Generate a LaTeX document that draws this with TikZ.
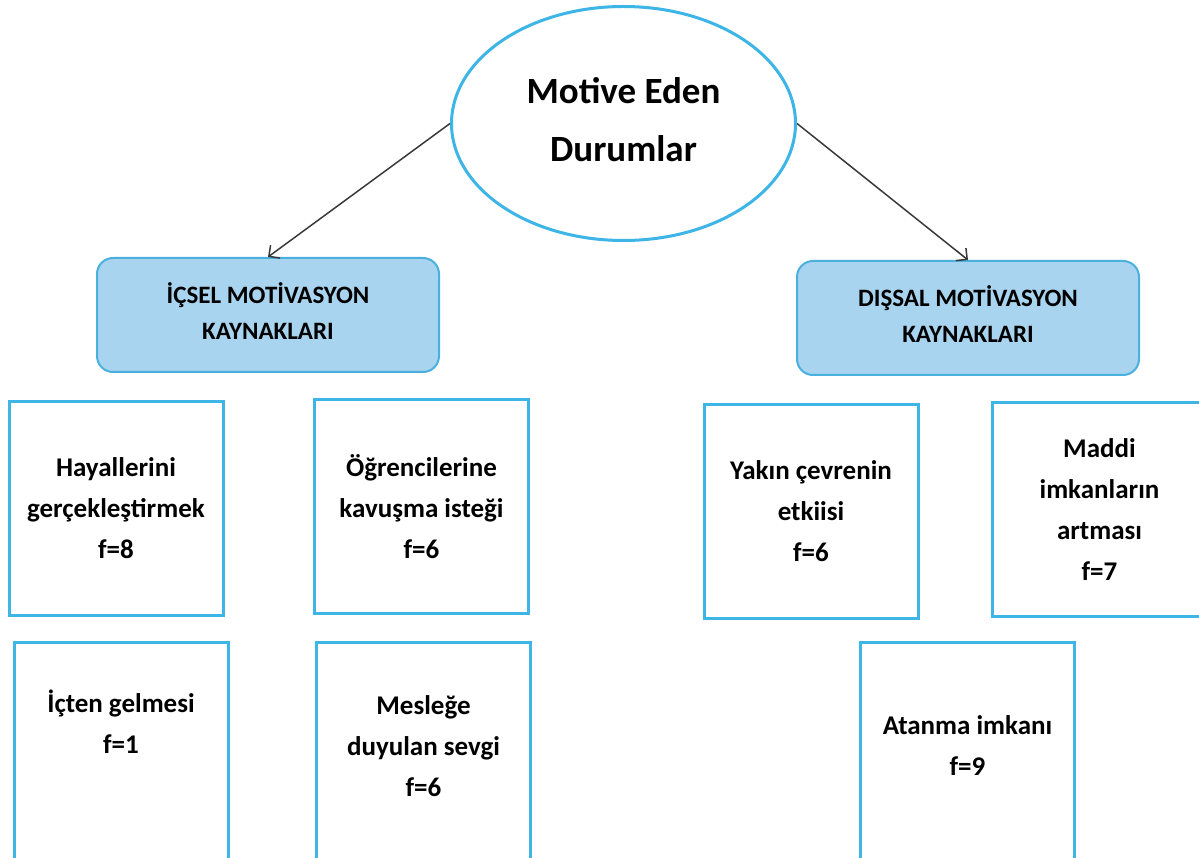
\documentclass[tikz,border=0pt]{standalone}
\usepackage{fontspec}
\setmainfont{Carlito}
\usetikzlibrary{arrows.meta,shapes.geometric}
\definecolor{skyline}{HTML}{3DB5E7}
\definecolor{skyfill}{HTML}{A8D4EF}
\definecolor{boxline}{HTML}{4AB0DE}
\definecolor{arrowgray}{HTML}{3A3A3A}
\tikzset{
  ovalbox/.style={ellipse, draw=skyline, line width=3pt, minimum width=344pt, minimum height=234pt, inner sep=0pt,
    align=center, font=\fontsize{37}{58}\selectfont\bfseries},
  catbox/.style={draw=boxline, fill=skyfill, line width=2pt, rounded corners=16pt, minimum width=342pt, minimum height=114pt,
    inner sep=0pt, align=center, font=\fontsize{25}{36}\selectfont\bfseries},
  itembox/.style={draw=skyline, line width=3pt, minimum width=214pt, minimum height=214pt, inner sep=0pt,
    align=center, font=\fontsize{27}{41}\selectfont\bfseries},
  lowbox/.style={itembox, minimum height=224pt},
  conn/.style={draw=arrowgray, line width=1.5pt, -{Straight Barb[length=8pt,width=16pt,line width=1.5pt]}}
}
\begin{document}
\begin{tikzpicture}[x=1pt,y=-1pt]
\useasboundingbox (0,0) rectangle (1199,858);
\clip (0,0) rectangle (1199,858);
\fill[white] (0,0) rectangle (1199,858);
\node[ovalbox] (root) at (623.5,123.5) {Motive Eden\\Durumlar\\[-50pt]\mbox{}};
\node[catbox] (ic) at (268,315) {İÇSEL MOTİVASYON\\KAYNAKLARI\\[-28pt]\mbox{}};
\node[catbox] (dis) at (968,318) {DIŞSAL MOTİVASYON\\KAYNAKLARI\\[-28pt]\mbox{}};
\node[itembox] (hay) at (116,508.5) {Hayallerini\\gerçekleştirmek\\f=8};
\node[itembox] (ogr) at (421.5,506.5) {Öğrencilerine\\kavuşma isteği\\f=6};
\node[itembox] (yak) at (811,511.5) {Yakın çevrenin\\etkiisi\\f=6};
\node[itembox] (mad) at (1099.5,509.5) {Maddi\\imkanların\\artması\\f=7};
\node[lowbox] (ict) at (121,754.5) {İçten gelmesi\\f=1\\[24pt]\mbox{}};
\node[lowbox] (mes) at (423.5,754.5) {Mesleğe\\duyulan sevgi\\f=6\\[-24pt]\mbox{}};
\node[lowbox] (ata) at (967.5,754.5) {Atanma imkanı\\f=9\\[-24pt]\mbox{}};
\draw[conn] (root.west) -- (ic.north);
\draw[conn] (root.east) -- (dis.north);
\end{tikzpicture}
\end{document}
